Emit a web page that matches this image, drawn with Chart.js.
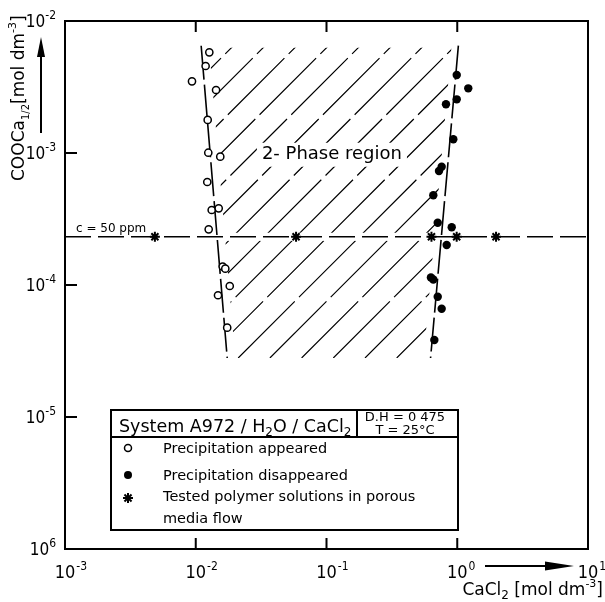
<!DOCTYPE html>
<html>
<head>
<meta charset="utf-8">
<script src="https://cdn.jsdelivr.net/npm/chart.js@4"></script>
<style>
  body { margin: 0; background: #fff; }
</style>
</head>
<body>
<canvas id="chart" width="605" height="602"></canvas>
<script>
// precipitation appeared (open circles)
const appearedX = [0.0127, 0.0119, 0.00936, 0.0143, 0.01234, 0.01247, 0.0154, 0.01225,
                   0.01324, 0.01498, 0.01256, 0.01607, 0.01683, 0.0182, 0.0148, 0.0174];
const appearedY = [5.79e-3, 4.56e-3, 3.49e-3, 3.0e-3, 1.78e-3, 1.005e-3, 9.38e-4, 6.03e-4,
                   3.70e-4, 3.81e-4, 2.64e-4, 1.38e-4, 1.33e-4, 9.83e-5, 8.36e-5, 4.75e-5];

// precipitation disappeared (filled circles)
const disappearedX = [0.991, 1.214, 0.991, 0.82, 0.933, 0.76, 0.725, 0.656,
                      0.709, 0.907, 0.83, 0.629, 0.656, 0.709, 0.76, 0.668];
const disappearedY = [3.9e-3, 3.09e-3, 2.55e-3, 2.34e-3, 1.27e-3, 7.88e-4, 7.31e-4, 4.78e-4,
                      2.96e-4, 2.74e-4, 2.01e-4, 1.14e-4, 1.10e-4, 8.15e-5, 6.6e-5, 3.83e-5];

// tested polymer solutions (stars), all at c = 50 ppm
const testedX = [0.00487, 0.0585, 0.635, 0.99, 1.98];
const testedY = [2.32e-4, 2.32e-4, 2.32e-4, 2.32e-4, 2.32e-4];

// c = 50 ppm line
const cLineX = [1e-3, 10];
const cLineY = [2.32e-4, 2.32e-4];

// two-phase region boundaries (top, bottom)
const leftBoundaryX = [0.011, 0.0174];
const leftBoundaryY = [6.5e-3, 2.8e-5];
const rightBoundaryX = [1.02, 0.625];
const rightBoundaryY = [6.5e-3, 2.8e-5];

// tick labels
const xTickValues = [1e-3, 1e-2, 1e-1, 1, 10];
const xTickExps = ['-3', '-2', '-1', '0', '1'];
const yTickValues = [1e-2, 1e-3, 1e-4, 1e-5, 1e-6];
const yTickExps = ['-2', '-3', '-4', '-5', '6'];

const pts = (xs, ys) => xs.map((x, i) => ({ x: x, y: ys[i] }));

const FONT = '"DejaVu Sans", sans-serif';
const NUM_FONT = '"Liberation Sans Narrow", "DejaVu Sans Condensed", "Liberation Sans", sans-serif';

function richWidth(ctx, parts) {
  let w = 0;
  parts.forEach(p => { ctx.font = p.font; w += ctx.measureText(p.t).width; });
  return w;
}
function drawRich(ctx, parts, x, y, align) {
  const w = richWidth(ctx, parts);
  let cx = align === 'right' ? x - w : align === 'center' ? x - w / 2 : x;
  ctx.textAlign = 'left';
  parts.forEach(p => {
    ctx.font = p.font;
    ctx.fillText(p.t, cx, y + (p.dy || 0));
    cx += ctx.measureText(p.t).width;
  });
}
function drawStar(ctx, x, y, r) {
  ctx.beginPath();
  for (let a = 0; a < 4; a++) {
    const ang = a * Math.PI / 4;
    ctx.moveTo(x - r * Math.cos(ang), y - r * Math.sin(ang));
    ctx.lineTo(x + r * Math.cos(ang), y + r * Math.sin(ang));
  }
  ctx.stroke();
}

const decor = {
  id: 'decor',
  beforeDatasetsDraw(chart) {
    const ctx = chart.ctx, xs = chart.scales.x, ys = chart.scales.y;
    const p = (x, y) => [xs.getPixelForValue(x), ys.getPixelForValue(y)];
    const lt = p(leftBoundaryX[0], leftBoundaryY[0]);
    const lb = p(leftBoundaryX[1], leftBoundaryY[1]);
    const rt = p(rightBoundaryX[0], rightBoundaryY[0]);
    const rb = p(rightBoundaryX[1], rightBoundaryY[1]);

    // hatching of the 2-phase region
    ctx.save();
    ctx.beginPath();
    ctx.moveTo(lt[0] + 8, lt[1] + 2);
    ctx.lineTo(rt[0] - 7, rt[1] + 2);
    ctx.lineTo(rb[0] - 7, rb[1]);
    ctx.lineTo(lb[0] + 8, lb[1]);
    ctx.closePath();
    ctx.clip();
    ctx.strokeStyle = '#000';
    ctx.lineWidth = 1.2;
    ctx.setLineDash([80, 6]);
    const H = lb[1] - lt[1];
    for (let x0 = lb[0] + 11 - 31.7 * 20; x0 < rb[0] + 10; x0 += 31.7) {
      ctx.beginPath();
      ctx.moveTo(x0, lb[1]);
      ctx.lineTo(x0 + H, lb[1] - H);
      ctx.stroke();
    }
    // gap along c line
    const cy = ys.getPixelForValue(cLineY[0]);
    ctx.fillStyle = '#fff';
    ctx.fillRect(0, cy - 4, chart.width, 8);
    ctx.restore();

    // region label
    ctx.save();
    ctx.font = '18px ' + FONT;
    const label = '2- Phase region';
    const tw = ctx.measureText(label).width;
    const tx = xs.getPixelForValue(0.11), ty = ys.getPixelForValue(9.7e-4);
    ctx.fillStyle = '#fff';
    ctx.fillRect(tx - tw / 2 - 5, ty - 12, tw + 10, 24);
    ctx.fillStyle = '#000';
    ctx.textAlign = 'center';
    ctx.textBaseline = 'middle';
    ctx.fillText(label, tx, ty);
    ctx.restore();
  },
  afterDraw(chart) {
    const ctx = chart.ctx, a = chart.chartArea, xs = chart.scales.x, ys = chart.scales.y;
    ctx.save();
    ctx.strokeStyle = '#000';
    ctx.fillStyle = '#000';
    ctx.setLineDash([]);

    // frame
    ctx.lineWidth = 2;
    ctx.strokeRect(a.left, a.top, a.right - a.left, a.bottom - a.top);

    // inward ticks
    ctx.beginPath();
    xTickValues.slice(1, -1).forEach(v => {
      const x = xs.getPixelForValue(v);
      ctx.moveTo(x, a.bottom); ctx.lineTo(x, a.bottom - 11);
      ctx.moveTo(x, a.top); ctx.lineTo(x, a.top + 11);
    });
    yTickValues.slice(1, -1).forEach(v => {
      const y = ys.getPixelForValue(v);
      ctx.moveTo(a.left, y); ctx.lineTo(a.left + 12, y);
    });
    ctx.stroke();

    // tick labels
    ctx.textBaseline = 'alphabetic';
    xTickValues.forEach((v, i) => {
      const x = xs.getPixelForValue(v);
      ctx.font = '18px ' + NUM_FONT;
      const w = ctx.measureText('10').width;
      ctx.textAlign = 'center';
      ctx.fillText('10', x, 578);
      ctx.textAlign = 'left';
      ctx.font = '12px ' + NUM_FONT;
      ctx.fillText(xTickExps[i], x + w / 2 + 1, 570);
    });
    yTickValues.forEach((v, i) => {
      const y = ys.getPixelForValue(v);
      drawRich(ctx, [
        { t: '10', font: '17px ' + NUM_FONT },
        { t: yTickExps[i], font: '12px ' + NUM_FONT, dy: -8 }
      ], 56, y + 6, 'right');
    });

    // x arrow and title
    ctx.lineWidth = 2;
    ctx.beginPath();
    ctx.moveTo(485, 566); ctx.lineTo(550, 566);
    ctx.stroke();
    ctx.beginPath();
    ctx.moveTo(574, 566); ctx.lineTo(545, 561.5); ctx.lineTo(545, 570.5);
    ctx.closePath(); ctx.fill();
    drawRich(ctx, [
      { t: 'CaCl', font: '17px ' + FONT },
      { t: '2', font: '12px ' + FONT, dy: 4 },
      { t: ' [mol dm', font: '17px ' + FONT },
      { t: '-3', font: '11px ' + FONT, dy: -8 },
      { t: ']', font: '17px ' + FONT }
    ], 603, 595, 'right');

    // y arrow and title
    ctx.beginPath();
    ctx.moveTo(41, 133); ctx.lineTo(41, 52);
    ctx.stroke();
    ctx.beginPath();
    ctx.moveTo(41, 37); ctx.lineTo(37, 57); ctx.lineTo(45, 57);
    ctx.closePath(); ctx.fill();
    ctx.save();
    ctx.translate(20, 181);
    ctx.rotate(-Math.PI / 2);
    ctx.textBaseline = 'middle';
    drawRich(ctx, [
      { t: 'COOCa', font: '17px ' + FONT },
      { t: '1/2', font: '10px ' + FONT, dy: 6 },
      { t: '[mol dm', font: '17px ' + FONT },
      { t: '-3', font: '11px ' + FONT, dy: -7 },
      { t: ']', font: '17px ' + FONT }
    ], 0, 0, 'left');
    ctx.restore();

    // c = 50 ppm label
    ctx.textBaseline = 'alphabetic';
    ctx.font = '12px ' + FONT;
    ctx.textAlign = 'left';
    ctx.fillStyle = '#fff';
    ctx.fillRect(93, 225, 5, 14);
    ctx.fillStyle = '#000';
    ctx.fillText('c = 50 ppm', 76, 232);

    // legend box
    const bx = 111, by = 410, bw = 347, bh = 120;
    ctx.fillStyle = '#fff';
    ctx.fillRect(bx, by, bw, bh);
    ctx.fillStyle = '#000';
    ctx.lineWidth = 2;
    ctx.strokeRect(bx, by, bw, bh);
    ctx.beginPath();
    ctx.moveTo(bx, 437); ctx.lineTo(bx + bw, 437);
    ctx.moveTo(357, by); ctx.lineTo(357, 437);
    ctx.stroke();
    drawRich(ctx, [
      { t: 'System A972 / H', font: '17.5px ' + FONT },
      { t: '2', font: '12px ' + FONT, dy: 4 },
      { t: 'O / CaCl', font: '17.5px ' + FONT },
      { t: '2', font: '12px ' + FONT, dy: 4 }
    ], 119, 432, 'left');
    ctx.font = '13px ' + FONT;
    ctx.textAlign = 'center';
    ctx.fillText('D.H = 0 475', 405, 421);
    ctx.fillText('T = 25\u00b0C', 405, 434);

    // legend entries
    ctx.lineWidth = 1.5;
    ctx.beginPath(); ctx.arc(128, 448, 3.5, 0, Math.PI * 2); ctx.stroke();
    ctx.beginPath(); ctx.arc(128, 475, 4, 0, Math.PI * 2); ctx.fill();
    ctx.lineWidth = 2;
    drawStar(ctx, 128, 498, 5);
    ctx.font = '14.5px ' + FONT;
    ctx.textAlign = 'left';
    ctx.fillText('Precipitation appeared', 163, 453);
    ctx.fillText('Precipitation disappeared', 163, 480);
    ctx.fillText('Tested polymer solutions in porous', 163, 501);
    ctx.fillText('media flow', 163, 523);
    ctx.restore();
  }
};

new Chart(document.getElementById('chart'), {
  type: 'scatter',
  data: {
    datasets: [
      {
        label: 'Precipitation appeared',
        data: pts(appearedX, appearedY),
        pointStyle: 'circle',
        pointRadius: 3.6,
        borderWidth: 1.5,
        borderColor: '#000',
        backgroundColor: '#fff'
      },
      {
        label: 'Precipitation disappeared',
        data: pts(disappearedX, disappearedY),
        pointStyle: 'circle',
        pointRadius: 4.2,
        borderWidth: 0,
        borderColor: '#000',
        backgroundColor: '#000'
      },
      {
        label: 'Tested polymer solutions in porous media flow',
        data: pts(testedX, testedY),
        pointStyle: 'star',
        pointRadius: 5,
        borderWidth: 2,
        borderColor: '#000',
        backgroundColor: '#000'
      },
      {
        label: 'c = 50 ppm',
        data: pts(cLineX, cLineY),
        showLine: true,
        pointRadius: 0,
        borderColor: '#000',
        borderWidth: 1.6,
        borderDash: [26, 7]
      },
      {
        label: 'left boundary',
        data: pts(leftBoundaryX, leftBoundaryY),
        showLine: true,
        pointRadius: 0,
        borderColor: '#000',
        borderWidth: 1.6,
        borderDash: [34, 5]
      },
      {
        label: 'right boundary',
        data: pts(rightBoundaryX, rightBoundaryY),
        showLine: true,
        pointRadius: 0,
        borderColor: '#000',
        borderWidth: 1.6,
        borderDash: [34, 5]
      }
    ]
  },
  options: {
    responsive: false,
    animation: false,
    layout: { padding: { top: 21, right: 17, left: 0, bottom: 0 } },
    scales: {
      x: {
        type: 'logarithmic',
        min: 1e-3,
        max: 10,
        ticks: { display: false },
        grid: { display: false },
        border: { display: false },
        afterFit: s => { s.height = 53; }
      },
      y: {
        type: 'logarithmic',
        min: 1e-6,
        max: 1e-2,
        ticks: { display: false },
        grid: { display: false },
        border: { display: false },
        afterFit: s => { s.width = 65; }
      }
    },
    plugins: {
      legend: { display: false },
      tooltip: { enabled: false }
    }
  },
  plugins: [decor]
});
</script>
</body>
</html>
